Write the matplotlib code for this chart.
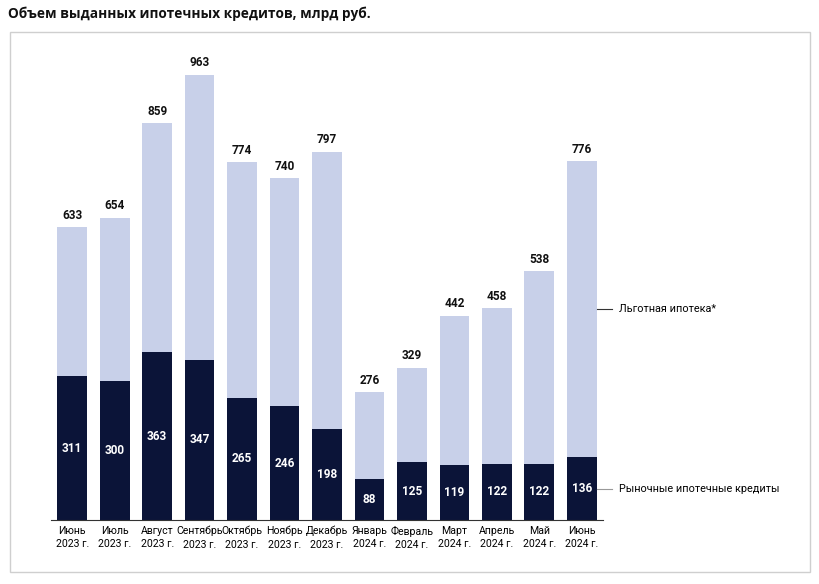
import matplotlib
matplotlib.use("Agg")
import matplotlib.pyplot as plt
from matplotlib.patches import Rectangle

plt.rcParams['font.family'] = ['Roboto', 'DejaVu Sans']

# ===============================
# Data
# ===============================
months = ["Июнь\n2023 г.", "Июль\n2023 г.", "Август\n2023 г.", "Сентябрь\n2023 г.",
          "Октябрь\n2023 г.", "Ноябрь\n2023 г.", "Декабрь\n2023 г.", "Январь\n2024 г.",
          "Февраль\n2024 г.", "Март\n2024 г.", "Апрель\n2024 г.", "Май\n2024 г.",
          "Июнь\n2024 г."]
total = [633, 654, 859, 963, 774, 740, 797, 276, 329, 442, 458, 538, 776]
market = [311, 300, 363, 347, 265, 246, 198, 88, 125, 119, 122, 122, 136]
preferential = [t - m for t, m in zip(total, market)]

DARK = "#0b1438"
LIGHT = "#c8d0e9"

fig = plt.figure(figsize=(8.2, 5.84), dpi=100)

# outer frame
fig.patches.append(Rectangle((10 / 820, 1 - 572 / 584), 800 / 820, 540 / 584,
                             transform=fig.transFigure, fill=False,
                             edgecolor="#cfcfcf", linewidth=1.0))

fig.text(8 / 820, 1 - 14 / 584, "Объем выданных ипотечных кредитов, млрд руб.",
         fontsize=9.8, fontweight="bold", family=["Open Sans", "DejaVu Sans"],
         va="center", ha="left", color="#111111")

ax = fig.add_axes([51 / 820, 1 - 520 / 584, 552 / 820, 445 / 584])
x = list(range(len(months)))
ax.bar(x, market, width=0.7, color=DARK)
ax.bar(x, preferential, bottom=market, width=0.7, color=LIGHT)

for i in x:
    ax.text(i, total[i] + 12, str(total[i]), ha="center", va="bottom",
            fontsize=8.5, fontweight="bold", color="#111111")
    ax.text(i, market[i] / 2, str(market[i]), ha="center", va="center",
            fontsize=8.5, fontweight="bold", color="white")

ax.set_xlim(-0.5, 12.5)
ax.set_ylim(0, 963)
ax.set_xticks(x)
ax.set_xticklabels(months, fontsize=7.6, linespacing=1.45)
ax.tick_params(axis="x", length=0, pad=4)
ax.set_yticks([])
for s in ["top", "right", "left"]:
    ax.spines[s].set_visible(False)
ax.spines["bottom"].set_color("#333333")
ax.spines["bottom"].set_linewidth(0.8)

# series annotations on the right
last = len(months) - 1
y_pref = market[last] + preferential[last] * 0.5
y_mark = market[last] / 2
ax.plot([last + 0.37, last + 0.72], [y_pref, y_pref], color="#333333", lw=0.8, clip_on=False)
ax.text(last + 0.88, y_pref, "Льготная ипотека*", fontsize=7.8, va="center", ha="left")
ax.plot([last + 0.37, last + 0.72], [y_mark, y_mark], color="#999999", lw=0.8, clip_on=False)
ax.text(last + 0.88, y_mark, "Рыночные ипотечные кредиты", fontsize=7.8, va="center", ha="left")

fig.savefig("out.png", dpi=100)
